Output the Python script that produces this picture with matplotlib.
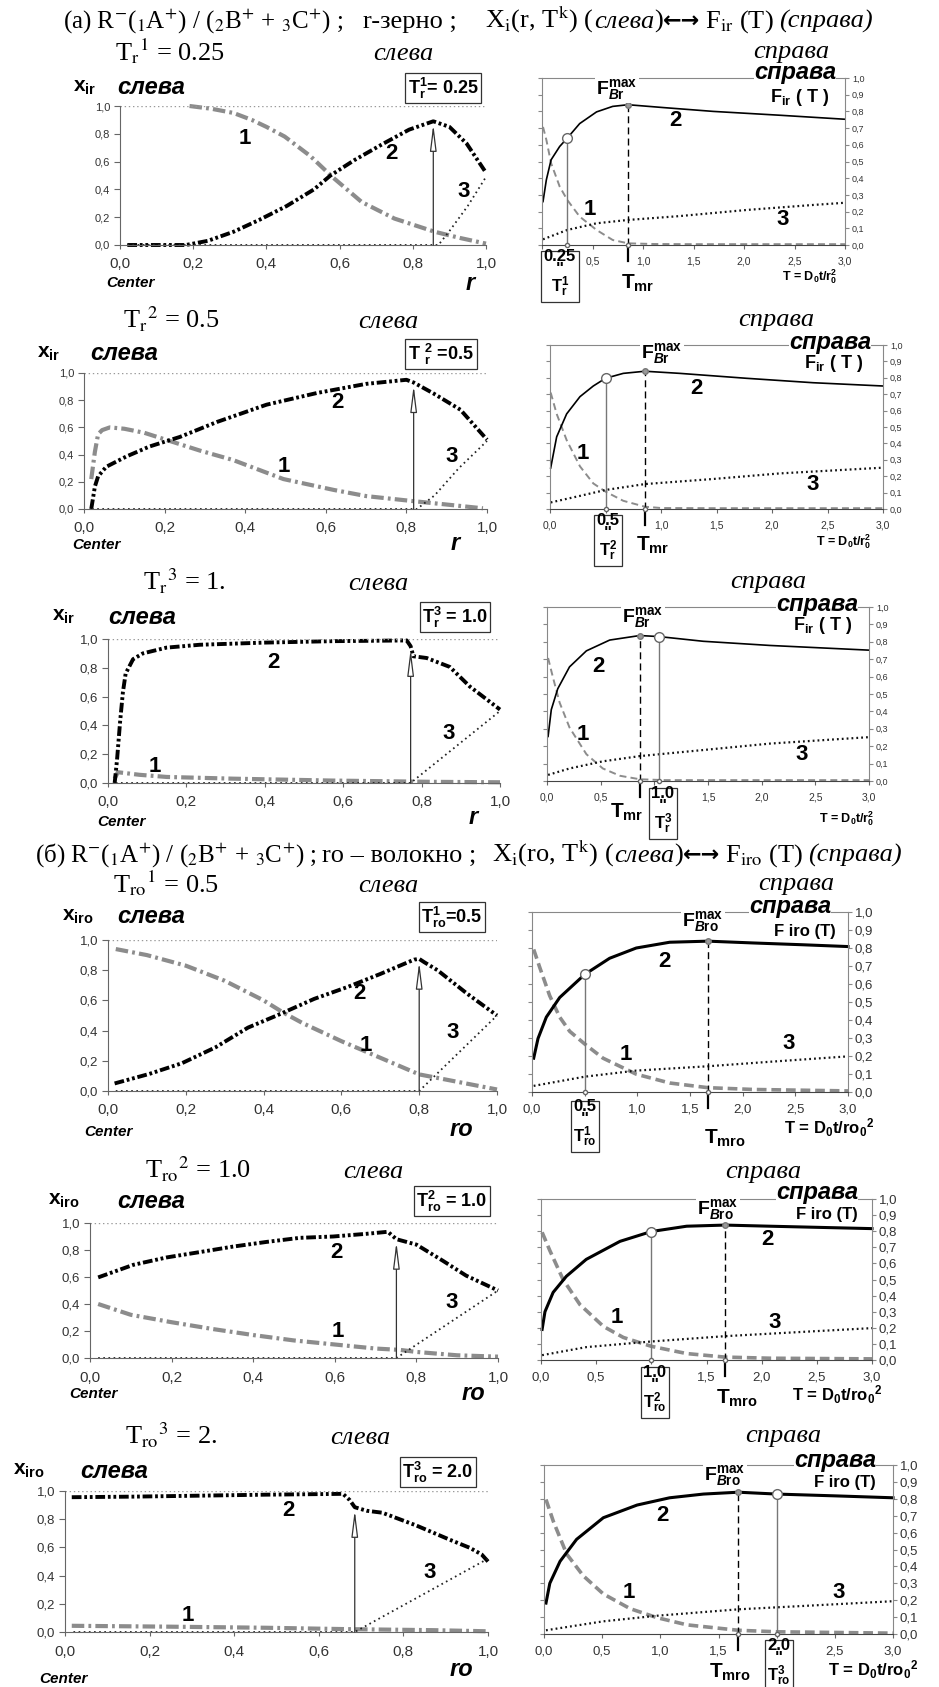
import matplotlib
matplotlib.use('Agg')
import matplotlib.pyplot as plt
from matplotlib.ticker import FuncFormatter, MultipleLocator
import numpy as np

W, H = 939, 1687
SERIF = ['Liberation Serif', 'DejaVu Serif']
SANS = ['Liberation Sans', 'DejaVu Sans']

plt.rcParams['font.family'] = SANS
plt.rcParams['mathtext.fontset'] = 'custom'
plt.rcParams['mathtext.rm'] = 'Liberation Sans:bold'
plt.rcParams['mathtext.it'] = 'Liberation Sans:italic:bold'
plt.rcParams['mathtext.bf'] = 'Liberation Sans:bold'
plt.rcParams['mathtext.default'] = 'rm'
plt.rcParams['lines.scale_dashes'] = False

# ---------------- data: left panels, x_i(r) at fixed T ----------------
# (a) r-grain, T = 0.25
L1_c1_r = [0.19, 0.25, 0.31, 0.36, 0.40, 0.45, 0.52, 0.58, 0.66, 0.75, 0.86, 0.93, 1.0]
L1_c1_y = [1.0, 0.98, 0.95, 0.90, 0.85, 0.78, 0.64, 0.49, 0.31, 0.19, 0.095, 0.05, 0.01]
L1_c2_r = [0.02, 0.18, 0.24, 0.31, 0.38, 0.455, 0.53, 0.575, 0.64, 0.72, 0.79, 0.856, 0.90, 0.947, 1.0]
L1_c2_y = [0.0, 0.0, 0.03, 0.095, 0.18, 0.28, 0.40, 0.50, 0.61, 0.73, 0.83, 0.89, 0.85, 0.73, 0.52]
L1_c3_r = [0.02, 0.87, 0.90, 0.95, 1.0]
L1_c3_y = [0.0, 0.0, 0.10, 0.28, 0.49]
# (a) T = 0.5
L2_c1_r = [0.018, 0.027, 0.035, 0.045, 0.064, 0.10, 0.15, 0.213, 0.287, 0.37, 0.495, 0.62, 0.70, 0.81, 0.909, 0.99]
L2_c1_y = [0.22, 0.42, 0.55, 0.58, 0.60, 0.59, 0.56, 0.50, 0.43, 0.36, 0.22, 0.14, 0.095, 0.06, 0.03, 0.005]
L2_c2_r = [0.018, 0.027, 0.035, 0.055, 0.105, 0.163, 0.238, 0.33, 0.453, 0.578, 0.70, 0.80, 0.818, 0.867, 0.934, 1.0]
L2_c2_y = [0.0, 0.165, 0.24, 0.31, 0.386, 0.46, 0.53, 0.64, 0.767, 0.853, 0.92, 0.95, 0.93, 0.85, 0.73, 0.51]
L2_c3_r = [0.02, 0.826, 0.87, 0.93, 1.0]
L2_c3_y = [0.0, 0.0, 0.10, 0.30, 0.50]
# (a) T = 1.0
L3_c1_r = [0.017, 0.025, 0.04, 0.08, 0.15, 0.32, 0.57, 0.83, 1.0]
L3_c1_y = [0.03, 0.075, 0.07, 0.057, 0.042, 0.03, 0.017, 0.008, 0.005]
L3_c2_r = [0.017, 0.023, 0.031, 0.038, 0.045, 0.064, 0.089, 0.149, 0.234, 0.40, 0.574, 0.762,
           0.772, 0.779, 0.813, 0.872, 0.923, 1.0]
L3_c2_y = [0.0, 0.16, 0.43, 0.63, 0.76, 0.86, 0.90, 0.94, 0.96, 0.975, 0.985, 0.99,
           0.95, 0.88, 0.868, 0.806, 0.67, 0.51]
L3_c3_r = [0.02, 0.772, 1.0]
L3_c3_y = [0.0, 0.0, 0.50]
# (б) ro-fibre, T = 0.5
L4_c1_r = [0.02, 0.1, 0.2, 0.3, 0.4, 0.45, 0.5, 0.6, 0.7, 0.8, 0.9, 1.0]
L4_c1_y = [0.94, 0.90, 0.83, 0.73, 0.60, 0.52, 0.45, 0.33, 0.22, 0.11, 0.06, 0.01]
L4_c2_r = [0.017, 0.106, 0.19, 0.277, 0.36, 0.434, 0.53, 0.617, 0.70, 0.787, 0.80, 0.813, 0.847, 0.923, 1.0]
L4_c2_y = [0.05, 0.113, 0.184, 0.29, 0.42, 0.50, 0.61, 0.69, 0.775, 0.87, 0.875, 0.853, 0.80, 0.645, 0.50]
L4_c3_r = [0.02, 0.80, 1.0]
L4_c3_y = [0.0, 0.0, 0.50]
# (б) T = 1.0
L5_c1_r = [0.02, 0.1, 0.2, 0.3, 0.4, 0.5, 0.6, 0.7, 0.76, 0.8, 0.9, 1.0]
L5_c1_y = [0.40, 0.32, 0.265, 0.215, 0.17, 0.13, 0.10, 0.07, 0.06, 0.045, 0.02, 0.01]
L5_c2_r = [0.02, 0.106, 0.188, 0.27, 0.35, 0.433, 0.514, 0.596, 0.678, 0.73, 0.751, 0.80, 0.865, 0.922, 1.0]
L5_c2_y = [0.597, 0.69, 0.745, 0.785, 0.825, 0.86, 0.89, 0.90, 0.92, 0.935, 0.88, 0.84, 0.72, 0.61, 0.50]
L5_c3_r = [0.02, 0.751, 1.0]
L5_c3_y = [0.0, 0.0, 0.50]
# (б) T = 2.0
L6_c1_r = [0.016, 0.24, 0.476, 0.673, 0.87, 1.0]
L6_c1_y = [0.044, 0.038, 0.03, 0.02, 0.013, 0.005]
L6_c2_r = [0.016, 0.16, 0.32, 0.476, 0.634, 0.657, 0.673, 0.685, 0.713, 0.75, 0.83, 0.91, 0.957, 0.985, 1.0]
L6_c2_y = [0.956, 0.96, 0.967, 0.974, 0.979, 0.98, 0.936, 0.885, 0.86, 0.846, 0.756, 0.654, 0.597, 0.55, 0.50]
L6_c3_r = [0.02, 0.685, 1.0]
L6_c3_y = [0.0, 0.0, 0.52]

fronts = [0.856, 0.818, 0.772, 0.80, 0.751, 0.685]

# ---------------- data: right panels, F_i(T) ----------------
R1_c1_t = [0.01, 0.043, 0.09, 0.175, 0.25, 0.373, 0.54, 0.70, 0.852, 1.1, 1.5, 3.0]
R1_c1_f = [0.707, 0.63, 0.49, 0.35, 0.27, 0.17, 0.09, 0.03, 0.01, 0.006, 0.005, 0.005]
R1_c2_t = [0.01, 0.043, 0.09, 0.175, 0.25, 0.373, 0.54, 0.70, 0.852, 1.2, 1.695, 2.355, 3.0]
R1_c2_f = [0.26, 0.39, 0.51, 0.59, 0.64, 0.727, 0.797, 0.83, 0.84, 0.823, 0.80, 0.777, 0.753]
R1_c3_t = [0.01, 0.25, 0.54, 0.852, 1.36, 2.03, 2.69, 3.0]
R1_c3_f = [0.034, 0.09, 0.13, 0.15, 0.173, 0.21, 0.24, 0.253]

R2_c1_t = [0.006, 0.06, 0.15, 0.27, 0.39, 0.5, 0.66, 0.855, 1.0, 1.5, 3.0]
R2_c1_f = [0.71, 0.58, 0.42, 0.26, 0.156, 0.106, 0.05, 0.014, 0.006, 0.005, 0.005]
R2_c2_t = [0.006, 0.06, 0.15, 0.27, 0.39, 0.5, 0.66, 0.855, 1.17, 1.77, 2.37, 3.0]
R2_c2_f = [0.25, 0.44, 0.58, 0.685, 0.75, 0.797, 0.827, 0.84, 0.827, 0.797, 0.77, 0.75]
R2_c3_t = [0.006, 0.27, 0.5, 0.855, 1.47, 2.07, 3.0]
R2_c3_f = [0.04, 0.08, 0.116, 0.152, 0.183, 0.217, 0.252]

R3_c1_t = [0.01, 0.056, 0.118, 0.21, 0.367, 0.52, 0.68, 0.864, 1.1, 3.0]
R3_c1_f = [0.707, 0.594, 0.45, 0.307, 0.154, 0.072, 0.03, 0.01, 0.005, 0.005]
R3_c2_t = [0.01, 0.04, 0.10, 0.21, 0.367, 0.584, 0.864, 1.044, 1.455, 2.077, 3.0]
R3_c2_f = [0.256, 0.41, 0.53, 0.656, 0.748, 0.81, 0.836, 0.83, 0.803, 0.779, 0.752]
R3_c3_t = [0.01, 0.21, 0.52, 0.864, 1.455, 2.077, 3.0]
R3_c3_f = [0.035, 0.072, 0.113, 0.143, 0.178, 0.215, 0.252]

R4_c1_t = [0.016, 0.073, 0.168, 0.263, 0.358, 0.5, 0.674, 0.99, 1.307, 1.67, 2.1, 3.0]
R4_c1_f = [0.792, 0.693, 0.535, 0.416, 0.337, 0.267, 0.188, 0.099, 0.05, 0.024, 0.014, 0.006]
R4_c2_t = [0.016, 0.057, 0.136, 0.263, 0.5, 0.737, 0.99, 1.307, 1.67, 2.1, 2.57, 3.0]
R4_c2_f = [0.188, 0.297, 0.416, 0.525, 0.653, 0.743, 0.80, 0.832, 0.838, 0.828, 0.818, 0.808]
R4_c3_t = [0.016, 0.5, 0.99, 1.67, 2.26, 3.0]
R4_c3_f = [0.034, 0.085, 0.119, 0.143, 0.168, 0.198]

R5_c1_t = [0.01, 0.08, 0.2, 0.353, 0.565, 0.746, 1.0, 1.32, 1.667, 2.075, 3.0]
R5_c1_f = [0.793, 0.68, 0.50, 0.344, 0.209, 0.14, 0.085, 0.04, 0.018, 0.011, 0.007]
R5_c2_t = [0.01, 0.036, 0.11, 0.23, 0.41, 0.716, 1.0, 1.32, 1.667, 2.075, 3.0]
R5_c2_f = [0.19, 0.30, 0.42, 0.52, 0.625, 0.737, 0.798, 0.831, 0.838, 0.831, 0.816]
R5_c3_t = [0.01, 0.41, 1.0, 1.667, 2.38, 3.0]
R5_c3_f = [0.03, 0.08, 0.115, 0.148, 0.175, 0.198]

R6_c1_t = [0.017, 0.08, 0.195, 0.338, 0.51, 0.74, 0.97, 1.23, 1.67, 2.0, 3.0]
R6_c1_f = [0.796, 0.667, 0.473, 0.344, 0.237, 0.15, 0.097, 0.054, 0.022, 0.013, 0.005]
R6_c2_t = [0.017, 0.05, 0.138, 0.28, 0.51, 0.8, 1.08, 1.37, 1.67, 2.0, 2.52, 3.0]
R6_c2_f = [0.183, 0.30, 0.43, 0.56, 0.688, 0.763, 0.806, 0.828, 0.839, 0.828, 0.817, 0.806]
R6_c3_t = [0.017, 0.51, 0.97, 1.67, 2.23, 3.0]
R6_c3_f = [0.022, 0.075, 0.108, 0.146, 0.166, 0.194]

tk_pos = [0.25, 0.5, 1.04, 0.5, 1.0, 2.0]

t_head = [r"T${}_{r}{}^{1}$ = 0.25", r"T${}_{r}{}^{2}$ = 0.5", r"T${}_{r}{}^{3}$ = 1.",
          r"T${}_{ro}{}^{1}$ = 0.5", r"T${}_{ro}{}^{2}$ = 1.0", r"T${}_{ro}{}^{3}$ = 2."]
box_left = [r"T$_r^1$= 0.25", r"T $_r^2$ =0.5", r"T$_r^3$ = 1.0",
            r"T$_{ro}^1$=0.5", r"T$_{ro}^2$ = 1.0", r"T$_{ro}^3$ = 2.0"]
box_right = ["0.25\n\"\nT$_r^1$", "0.5\n\"\nT$_r^2$", "1.0\n\"\nT$_r^3$",
             "0.5\n\"\nT$_{ro}^1$", "1.0\n\"\nT$_{ro}^2$", "2.0\n\"\nT$_{ro}^3$"]

left_data = [(L1_c1_r, L1_c1_y, L1_c2_r, L1_c2_y, L1_c3_r, L1_c3_y),
             (L2_c1_r, L2_c1_y, L2_c2_r, L2_c2_y, L2_c3_r, L2_c3_y),
             (L3_c1_r, L3_c1_y, L3_c2_r, L3_c2_y, L3_c3_r, L3_c3_y),
             (L4_c1_r, L4_c1_y, L4_c2_r, L4_c2_y, L4_c3_r, L4_c3_y),
             (L5_c1_r, L5_c1_y, L5_c2_r, L5_c2_y, L5_c3_r, L5_c3_y),
             (L6_c1_r, L6_c1_y, L6_c2_r, L6_c2_y, L6_c3_r, L6_c3_y)]
right_data = [(R1_c1_t, R1_c1_f, R1_c2_t, R1_c2_f, R1_c3_t, R1_c3_f),
              (R2_c1_t, R2_c1_f, R2_c2_t, R2_c2_f, R2_c3_t, R2_c3_f),
              (R3_c1_t, R3_c1_f, R3_c2_t, R3_c2_f, R3_c3_t, R3_c3_f),
              (R4_c1_t, R4_c1_f, R4_c2_t, R4_c2_f, R4_c3_t, R4_c3_f),
              (R5_c1_t, R5_c1_f, R5_c2_t, R5_c2_f, R5_c3_t, R5_c3_f),
              (R6_c1_t, R6_c1_f, R6_c2_t, R6_c2_f, R6_c3_t, R6_c3_f)]

# layout, in pixels of the 939x1687 picture (y from top); hid = T tick hidden under the box
rows = [
    dict(L=(120, 106, 486, 245), R=(542, 78, 845, 245), tl=(115, 60), sl=373, sp=(753, 58),
         xl=(73, 87), slb=(117, 87), bl=(443, 88), fm=(617, 90), spb=(795, 73), fir=(800, 97),
         tm=(638, 283), br=(560, 274), td=(810, 277), ce=(130, 283), rn=(470, 283), hid=0.0,
         labL=[(0.342, 0.767), (0.742, 0.66), (0.938, 0.384)],
         labR=[(0.47, 0.21), (1.32, 0.747), (2.38, 0.15)]),
    dict(L=(84, 373, 487, 509), R=(550, 345, 883, 509), tl=(123, 328), sl=358, sp=(738, 326),
         xl=(37, 353), slb=(90, 353), bl=(441, 354), fm=(662, 353), spb=(830, 342), fir=(834, 363),
         tm=(653, 545), br=(608, 538), td=(844, 542), ce=(96, 545), rn=(455, 543), hid=0.5,
         labL=[(0.495, 0.31), (0.63, 0.78), (0.913, 0.386)],
         labR=[(0.294, 0.34), (1.32, 0.736), (2.37, 0.15)]),
    dict(L=(108, 639, 500, 783), R=(547, 607, 869, 781), tl=(143, 590), sl=348, sp=(730, 588),
         xl=(52, 617), slb=(108, 617), bl=(455, 617), fm=(643, 617), spb=(817, 605), fir=(823, 626),
         tm=(627, 812), br=(663, 811), td=(847, 819), ce=(121, 822), rn=(473, 817), hid=1.0,
         labL=[(0.119, 0.117), (0.421, 0.84), (0.868, 0.347)],
         labR=[(0.336, 0.266), (0.476, 0.66), (2.37, 0.154)]),
    dict(L=(108, 940, 497, 1091), R=(532, 912, 848, 1092), tl=(113, 892), sl=358, sp=(758, 890),
         xl=(62, 917), slb=(117, 917), bl=(452, 917), fm=(703, 922), spb=(790, 907), fir=(805, 931),
         tm=(725, 1138), br=(585, 1124), td=(829, 1128), ce=(108, 1132), rn=(461, 1130), hid=0.5,
         labL=[(0.664, 0.30), (0.647, 0.645), (0.885, 0.385)],
         labR=[(0.89, 0.208), (1.26, 0.723), (2.44, 0.267)]),
    dict(L=(90, 1223, 498, 1358), R=(541, 1199, 872, 1360), tl=(145, 1178), sl=343, sp=(725, 1178),
         xl=(48, 1201), slb=(117, 1201), bl=(452, 1201), fm=(718, 1209), spb=(817, 1192), fir=(827, 1215),
         tm=(737, 1398), br=(655, 1390), td=(837, 1395), ce=(93, 1394), rn=(473, 1393), hid=1.0,
         labL=[(0.608, 0.194), (0.604, 0.785), (0.886, 0.41)],
         labR=[(0.686, 0.265), (2.05, 0.748), (2.12, 0.23)]),
    dict(L=(65, 1491, 488, 1632), R=(544, 1465, 893, 1634), tl=(125, 1444), sl=330, sp=(745, 1442),
         xl=(13, 1471), slb=(80, 1471), bl=(438, 1472), fm=(725, 1476), spb=(835, 1460), fir=(845, 1482),
         tm=(730, 1672), br=(779, 1663), td=(873, 1670), ce=(63, 1679), rn=(461, 1670), hid=2.0,
         labL=[(0.29, 0.115), (0.528, 0.86), (0.862, 0.42)],
         labR=[(0.725, 0.247), (1.02, 0.70), (2.53, 0.247)]),
]

GRAY = '#8c8c8c'
comma = FuncFormatter(lambda v, p: f"{v:.1f}".replace('.', ','))


def comma_hiding(hid):
    return FuncFormatter(lambda v, p: '' if abs(v - hid) < 1e-6 else f"{v:.1f}".replace('.', ','))


fig = plt.figure(figsize=(W / 100, H / 100), dpi=100)
rend = fig.canvas.get_renderer()


def add_ax(box):
    x0, y0, x1, y1 = box
    return fig.add_axes([x0 / W, 1 - y1 / H, (x1 - x0) / W, (y1 - y0) / H])


def ftext(x, y, s, **kw):
    return fig.text(x / W, 1 - y / H, s, **kw)


def seq(x, y, parts, size=19):
    # lay text pieces one after another on a common baseline
    for piece in parts:
        s, st = piece[0], piece[1]
        x += piece[2] if len(piece) > 2 else 0
        if st == 'a':
            t = ftext(x, y - 1, s, fontsize=size - 3, family=['DejaVu Sans'], fontweight='bold',
                      va='baseline', ha='left', zorder=10)
        else:
            t = ftext(x, y, s, fontsize=size, family=SERIF, style='italic' if st == 'i' else 'normal',
                      math_fontfamily='stix', va='baseline', ha='left', zorder=10)
        x = t.get_window_extent(rend).x1


# headers of the two groups
seq(63, 28, [(r"(a) R${}^{-}$(${}_{1}$A${}^{+}$) / (${}_{2}$B${}^{+}$ + ${}_{3}$C${}^{+}$) ;", 'n')], size=18)
seq(363, 28, [("r-зерно ;", 'n')])
seq(485, 28, [(r"X${}_{i}$(r, T${}^{k}$) (", 'n'), ("слева", 'i'), (")", 'n'), ("←→", 'a'),
              (r"F${}_{ir}$ (T)", 'n', 5), ("(справа)", 'i', 5)])
seq(35, 862, [(r"(б) R${}^{-}$(${}_{1}$A${}^{+}$) / (${}_{2}$B${}^{+}$ + ${}_{3}$C${}^{+}$) ;", 'n')], size=18)
seq(322, 862, [("ro – волокно ;", 'n')])
seq(492, 862, [(r"X${}_{i}$(ro, T${}^{k}$) (", 'n'), ("слева", 'i'), (")", 'n'), ("←→", 'a'),
               (r"F${}_{iro}$ (T)", 'n', 5), ("(справа)", 'i', 5)])

for k, lay in enumerate(rows):
    big = k >= 3
    sub = 'ro' if big else 'r'
    c1r, c1y, c2r, c2y, c3r, c3y = left_data[k]
    t1, f1, t2, f2, t3, f3 = right_data[k]

    # row captions
    seq(lay['tl'][0], lay['tl'][1], [(t_head[k], 'n')])
    seq(lay['sl'], lay['tl'][1], [("слева", 'i')])
    seq(lay['sp'][0], lay['sp'][1], [("справа", 'i')])

    # ---------- left panel ----------
    ax = add_ax(lay['L'])
    ax.set_xlim(0, 1)
    ax.set_ylim(0, 1)
    ax.plot(c1r, c1y, color=GRAY, lw=3, dashes=(9, 3, 2, 3), clip_on=False)
    ax.plot(c2r, c2y, color='k', lw=2.8, dashes=(7, 2, 2, 2, 2, 2), clip_on=False)
    ax.plot(c3r, c3y, color='#222222', lw=1.3, dashes=(1.2, 2.5), clip_on=False)
    ax.axhline(1.0, color='#999999', lw=1, ls=(0, (1, 2)))
    rf = fronts[k]
    tip = np.interp(rf, c2r, c2y) - 0.02
    ax.annotate('', xy=(rf, tip), xytext=(rf, 0),
                arrowprops=dict(arrowstyle='-|>,head_length=1.6,head_width=0.2',
                                fc='white', ec='#333333', lw=0.9, shrinkA=0, shrinkB=0))
    for sp in ('top', 'right'):
        ax.spines[sp].set_visible(False)
    for sp in ('left', 'bottom'):
        ax.spines[sp].set_color('#666666')
    ax.xaxis.set_major_locator(MultipleLocator(0.2))
    ax.yaxis.set_major_locator(MultipleLocator(0.2))
    ax.xaxis.set_major_formatter(comma)
    ax.yaxis.set_major_formatter(comma)
    ax.tick_params(axis='y', labelsize=9.5 if k >= 2 else 8, length=4, color='#666666',
                   labelcolor='#333333', pad=3)
    ax.tick_params(axis='x', labelsize=11, length=3, color='#666666', labelcolor='#333333', pad=6)
    for n, (lx, ly) in enumerate(lay['labL']):
        ax.text(lx, ly, str(n + 1), fontsize=16, fontweight='bold', ha='center', va='center')

    ftext(*lay['xl'], r"x$_{i%s}$" % sub, fontsize=15, fontweight='bold', va='center', ha='left')
    ftext(*lay['slb'], "слева", fontsize=17, fontweight='bold', style='italic', va='center', ha='left')
    ftext(*lay['bl'], box_left[k], fontsize=13, fontweight='bold', va='center', ha='center',
          bbox=dict(boxstyle='square,pad=0.15', fc='white', ec='#333333', lw=0.9))
    ftext(*lay['ce'], "Center", fontsize=11, fontweight='bold', style='italic', va='center', ha='center')
    ftext(*lay['rn'], sub, fontsize=17, fontweight='bold', style='italic', va='center', ha='center')

    # ---------- right panel ----------
    bx = add_ax(lay['R'])
    bx.set_xlim(0, 3)
    bx.set_ylim(0, 1)
    bx.plot(t1, f1, color=GRAY, lw=2.6 if big else 1.4, dashes=(7, 3.5) if big else (5, 3), clip_on=False)
    bx.plot(t2, f2, color='k', lw=2.2 if big else 1.2, clip_on=False)
    bx.plot(t3, f3, color='#111111', lw=1.6, dashes=(1.3, 2.2), clip_on=False)
    i_max = int(np.argmax(f2))
    tm, fmax = t2[i_max], f2[i_max]
    tk = tk_pos[k]
    fk = np.interp(tk, t2, f2)
    bx.plot([tm, tm], [0, fmax], color='k', lw=1, dashes=(5, 3), clip_on=False)
    bx.plot([tk, tk], [0, fk], color='#777777', lw=1, clip_on=False)
    bx.plot([tm], [fmax], 'o', ms=4, mfc='#999999', mec='#777777', clip_on=False, zorder=5)
    bx.plot([tk], [fk], 'o', ms=7, mfc='white', mec='#666666', clip_on=False, zorder=5)
    bx.plot([tm, tk], [0, 0], 'o', ms=3, mfc='white', mec='#666666', lw=0, clip_on=False, zorder=5)
    ah = lay['R'][3] - lay['R'][1]
    bx.plot([tm, tm], [0, -16 / ah], color='k', lw=1.6, transform=bx.get_xaxis_transform(), clip_on=False)
    for sp in ('top', 'right', 'left'):
        bx.spines[sp].set_color('#888888')
    bx.spines['bottom'].set_color('#444444')
    bx.xaxis.set_major_locator(MultipleLocator(0.5))
    bx.yaxis.set_major_locator(MultipleLocator(0.1))
    bx.xaxis.set_major_formatter(comma_hiding(lay['hid']))
    bx.yaxis.set_major_formatter(comma)
    bx.tick_params(axis='y', left=True, right=True, labelleft=False, labelright=True,
                   labelsize=9.5 if big else 6.5, length=3, color='#888888', labelcolor='#333333', pad=2)
    bx.tick_params(axis='x', labelsize=9.5 if big else 7.5, length=3, color='#666666',
                   labelcolor='#333333', pad=5)
    for n, (lx, ly) in enumerate(lay['labR']):
        bx.text(lx, ly, str(n + 1), fontsize=16, fontweight='bold', ha='center', va='center')

    ftext(*lay['fm'], r"F$_{\mathit{B}%s}^{max}$" % sub, fontsize=14, fontweight='bold',
          va='center', ha='center', bbox=dict(boxstyle='square,pad=0.05', fc='white', ec='none'))
    ftext(*lay['spb'], "справа", fontsize=17, fontweight='bold', style='italic', va='center',
          ha='center', bbox=dict(boxstyle='square,pad=0.0', fc='white', ec='none'))
    ftext(*lay['fir'], "F iro (T)" if big else r"F$_{ir}$ ( T )", fontsize=12 if big else 13,
          fontweight='bold', va='center', ha='center')
    ftext(*lay['tm'], r"T$_{m%s}$" % sub, fontsize=15, fontweight='bold', va='center', ha='center')
    ftext(*lay['br'], box_right[k], fontsize=12, fontweight='bold', va='center', ha='center',
          linespacing=0.85, bbox=dict(boxstyle='square,pad=0.15', fc='white', ec='#333333', lw=0.9))
    ftext(*lay['td'], r"T = D$_0$t/ro$_0{}^2$" if big else r"T = D$_0$t/r$_0^2$",
          fontsize=12 if big else 9, fontweight='bold', va='center', ha='center')

fig.savefig('out.png', dpi=100)
